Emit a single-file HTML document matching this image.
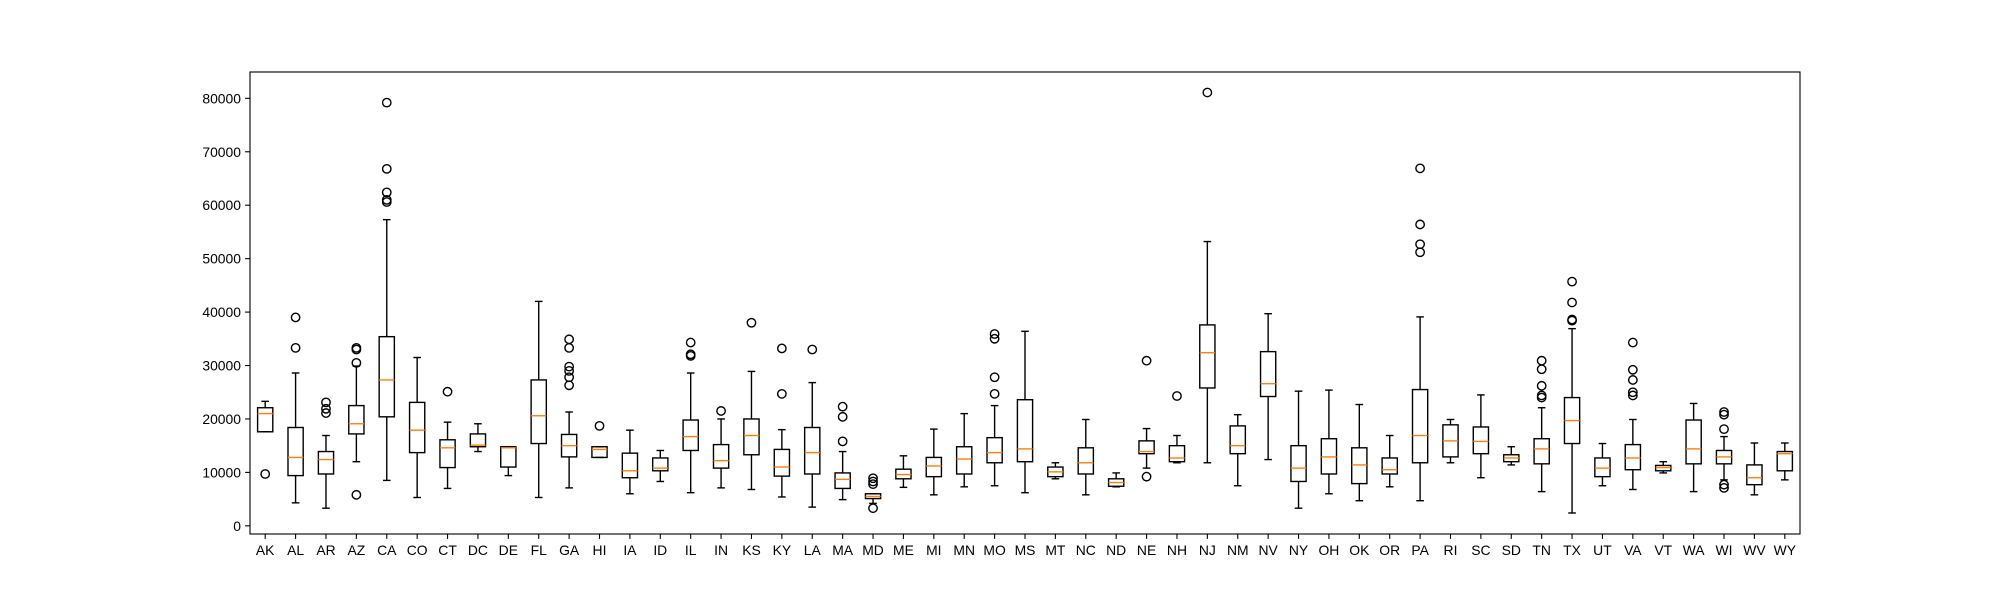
<!DOCTYPE html>
<html><head><meta charset="utf-8"><style>
html,body{margin:0;padding:0;background:#fff;}
svg{display:block;font-family:"Liberation Sans","DejaVu Sans",sans-serif;}
</style></head>
<body>
<svg id="chart" width="2000" height="600" viewBox="0 0 2000 600" xmlns="http://www.w3.org/2000/svg">
<rect width="2000" height="600" fill="#fff"/>
<g id="plot"></g>
</svg>
<script>
const categories = ["AK","AL","AR","AZ","CA","CO","CT","DC","DE","FL","GA","HI","IA","ID","IL","IN","KS","KY","LA","MA","MD","ME","MI","MN","MO","MS","MT","NC","ND","NE","NH","NJ","NM","NV","NY","OH","OK","OR","PA","RI","SC","SD","TN","TX","UT","VA","VT","WA","WI","WV","WY"];
// values in thousands
const whiskerLow = [17.6,4.3,3.3,12.0,8.5,5.3,7.0,13.9,9.4,5.3,7.1,12.8,6.0,8.3,6.2,7.1,6.8,5.4,3.5,4.9,4.2,7.2,5.8,7.3,7.5,6.2,8.8,5.8,7.3,10.8,11.8,11.8,7.5,12.4,3.3,6.0,4.7,7.3,4.7,11.8,9.0,11.4,6.4,2.4,7.5,6.8,9.9,6.4,8.6,5.8,8.6];
const quartile1 = [17.6,9.4,9.7,17.2,20.4,13.7,10.9,14.8,11.0,15.4,12.9,12.8,9.0,10.3,14.1,10.8,13.3,9.3,9.7,7.0,5.1,8.8,9.2,9.7,11.8,12.0,9.2,9.7,7.4,13.5,12.0,25.8,13.5,24.2,8.3,9.7,7.9,9.7,11.8,12.9,13.5,12.0,11.6,15.4,9.2,10.5,10.3,11.6,11.6,7.7,10.3];
const medians = [21.0,12.8,12.4,19.1,27.3,17.9,14.6,15.1,14.6,20.6,15.0,14.3,10.3,10.8,16.7,12.2,16.9,11.0,13.7,8.7,5.5,9.6,11.2,12.5,13.7,14.4,10.1,11.8,8.1,13.9,12.7,32.4,15.0,26.6,10.8,12.9,11.4,10.5,16.9,15.9,15.8,12.7,14.4,19.7,10.8,12.7,10.9,14.4,12.9,9.0,13.5];
const quartile3 = [22.1,18.4,13.9,22.5,35.4,23.1,16.1,17.2,14.8,27.3,17.1,14.8,13.6,12.7,19.8,15.2,20.0,14.3,18.4,9.9,6.0,10.6,12.8,14.8,16.5,23.6,11.0,14.6,8.8,15.9,15.0,37.6,18.7,32.6,15.0,16.3,14.6,12.7,25.5,18.9,18.5,13.3,16.3,24.0,12.7,15.2,11.3,19.8,14.1,11.4,13.9];
const whiskerHigh = [23.3,28.6,16.9,29.9,57.3,31.5,19.4,19.1,14.8,42.0,21.3,14.8,17.9,14.1,28.6,20.0,28.9,18.0,26.8,13.9,6.0,13.1,18.1,21.0,22.5,36.4,11.8,19.9,9.9,18.2,16.9,53.2,20.8,39.7,25.2,25.4,22.7,16.9,39.1,19.9,24.5,14.8,22.1,36.9,15.4,19.9,12.0,22.9,16.7,15.5,15.5];
const outliers = [[9.7],[39.0,33.3],[23.1,21.9,21.1],[33.3,33.0,30.5,5.8],[79.2,66.8,62.4,61.0,60.6],[],[25.1],[],[],[],[34.9,33.3,29.8,29.0,27.8,26.3],[18.7],[],[],[34.3,32.1,31.8],[21.5],[38.0],[33.2,24.7],[33.0],[22.3,20.4,15.8],[8.9,8.3,7.8,3.3],[],[],[],[35.9,35.0,27.8,24.7],[],[],[],[],[30.9,9.2],[24.3],[81.1],[],[],[],[],[],[],[66.9,56.4,52.7,51.2],[],[],[],[30.9,29.3,26.2,24.4,24.0],[45.7,41.8,38.6,38.4],[],[34.3,29.2,27.3,25.0,24.4],[],[],[21.3,20.8,18.1,7.7,7.1],[],[]];
const yTicks = [0,10000,20000,30000,40000,50000,60000,70000,80000];

const L=250,R=1800,T=72,B=534;
const yMin=-1530,yMax=84930;
const n=categories.length;
function xs(i){return L+(i+0.5)*(R-L)/n;}
function ys(v){return B-(v-yMin)/(yMax-yMin)*(B-T);}
const NS="http://www.w3.org/2000/svg";
const g=document.getElementById('plot');
function mk(tag,attrs,parent){const e=document.createElementNS(NS,tag);for(const k in attrs)e.setAttribute(k,attrs[k]);(parent||g).appendChild(e);return e;}
const bw=(R-L)/n*0.5, cw=bw*0.5;
for(let i=0;i<n;i++){
  const grp=mk('g',{});
  
  
  const x=xs(i);
  const k=1000;
  const st={stroke:'#000','stroke-width':1.4,fill:'none'};
  mk('line',Object.assign({x1:x,x2:x,y1:ys(whiskerLow[i]*k),y2:ys(quartile1[i]*k)},st),grp);
  mk('line',Object.assign({x1:x,x2:x,y1:ys(quartile3[i]*k),y2:ys(whiskerHigh[i]*k)},st),grp);
  mk('line',Object.assign({x1:x-cw/2,x2:x+cw/2,y1:ys(whiskerLow[i]*k),y2:ys(whiskerLow[i]*k)},st),grp);
  mk('line',Object.assign({x1:x-cw/2,x2:x+cw/2,y1:ys(whiskerHigh[i]*k),y2:ys(whiskerHigh[i]*k)},st),grp);
  mk('rect',Object.assign({x:x-bw/2,y:ys(quartile3[i]*k),width:bw,height:Math.max(0,ys(quartile1[i]*k)-ys(quartile3[i]*k))},st),grp);
  mk('line',{x1:x-bw/2,x2:x+bw/2,y1:ys(medians[i]*k),y2:ys(medians[i]*k),stroke:'#ff7f0e','stroke-width':1.4},grp);
  for(const o of outliers[i]){
    const c=mk('circle',{cx:x,cy:ys(o*k),r:4.2,fill:'none',stroke:'#000','stroke-width':1.4},grp);
    
    
  }
  const tk=mk('line',{x1:x,x2:x,y1:B,y2:B+4.9,stroke:'#000','stroke-width':1.1});
  
  
  const t=mk('text',{x:x,y:B+21,'text-anchor':'middle','font-size':13.9,fill:'#000'});
  t.textContent=categories[i];
  
  
}
for(const v of yTicks){
  const y=ys(v);
  const tk=mk('line',{x1:L-4.9,x2:L,y1:y,y2:y,stroke:'#000','stroke-width':1.1});
  
  
  const t=mk('text',{x:L-9,y:y+5,'text-anchor':'end','font-size':13.9,fill:'#000'});
  t.textContent=String(v);
  
  
}
const frame=mk('rect',{x:L,y:T,width:R-L,height:B-T,fill:'none',stroke:'#000','stroke-width':1.1});


</script>
</body></html>
